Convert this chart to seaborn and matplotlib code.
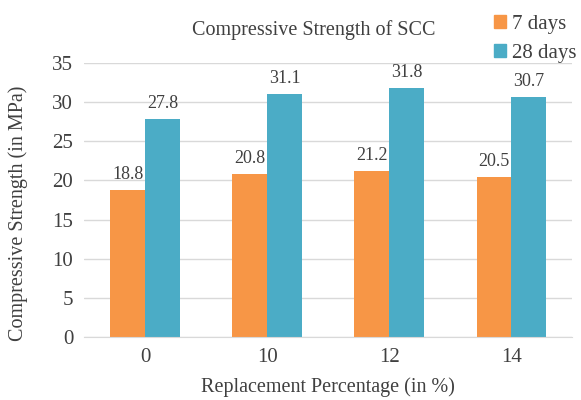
import matplotlib
matplotlib.use("Agg")
import matplotlib.pyplot as plt
import seaborn as sns
import pandas as pd

# values
percentages = ["0", "10", "12", "14"]
days7 = [18.8, 20.8, 21.2, 20.5]
days28 = [27.8, 31.1, 31.8, 30.7]
series = ["7 days", "28 days"]
colors = ["#F79646", "#4BACC6"]

df = pd.DataFrame({
    "pct": percentages * 2,
    "strength": days7 + days28,
    "age": [series[0]] * 4 + [series[1]] * 4,
})

sns.set_style("white")
plt.rcParams["font.family"] = ["Liberation Serif", "DejaVu Serif"]

fig = plt.figure(figsize=(5.81, 4.0), dpi=100)
ax = fig.add_axes([0.145, 0.1575, 0.84, 0.685])

sns.barplot(data=df, x="pct", y="strength", hue="age", order=percentages,
            hue_order=series, palette=colors, width=0.57, gap=0,
            saturation=1, linewidth=0, edgecolor="none", ax=ax, legend=False)

for c in ax.containers:
    ax.bar_label(c, labels=[f"{v:.1f}" for v in c.datavalues],
                 padding=5, fontsize=13, color="#404040")

ax.set_ylim(0, 35)
ax.set_yticks(range(0, 36, 5))
ax.yaxis.grid(True, color="#d9d9d9", linewidth=1)
ax.set_axisbelow(True)
for s in ["top", "right", "left"]:
    ax.spines[s].set_visible(False)
ax.spines["bottom"].set_color("#d9d9d9")
ax.tick_params(axis="both", length=0, labelsize=15, labelcolor="#404040", pad=8)

ax.set_xlabel("Replacement Percentage (in %)", fontsize=14.5, color="#404040", labelpad=7)
ax.set_ylabel("Compressive Strength (in MPa)", fontsize=14.5, color="#404040")
ax.yaxis.set_label_coords(-0.115, 0.45)

fig.text(0.54, 0.925, "Compressive Strength of SCC", ha="center", va="center",
         fontsize=14.5, color="#404040")

handles = [plt.Rectangle((0, 0), 1, 1, color=c) for c in colors]
fig.legend(handles, series, loc="upper right", bbox_to_anchor=(1.025, 1.01),
           frameon=False, fontsize=15, handlelength=0.6, handleheight=0.6,
           handletextpad=0.3, labelspacing=0.5, labelcolor="#404040")

fig.savefig("out.png", dpi=100)
